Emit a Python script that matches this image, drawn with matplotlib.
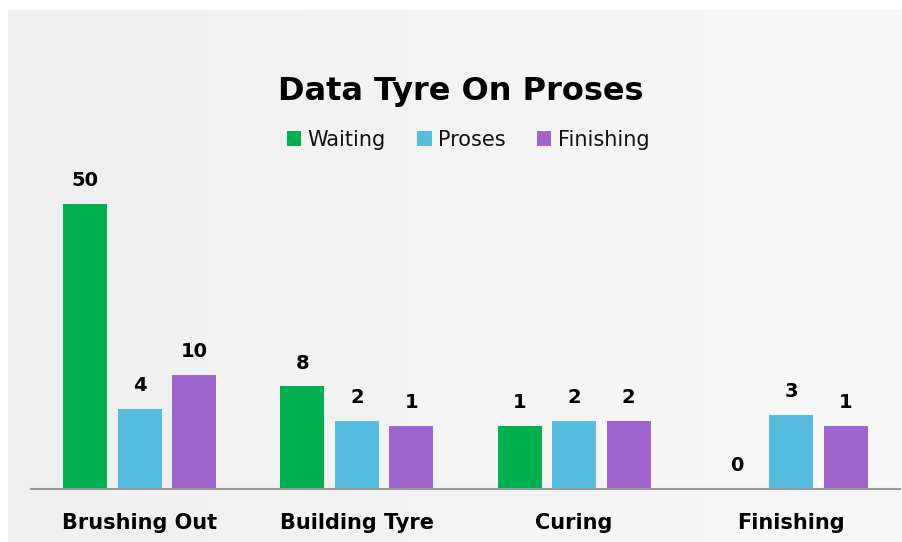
import numpy as np
import matplotlib
matplotlib.use('Agg')
import matplotlib.pyplot as plt

categories = ['Brushing Out', 'Building Tyre', 'Curing', 'Finishing']
series_names = ['Waiting', 'Proses', 'Finishing']
waiting = [50, 8, 1, 0]
proses = [4, 2, 2, 3]
finishing = [10, 1, 2, 1]
colors = ['#00b050', '#56bce0', '#a064cf']


# value axis of the original is not linear: small values get a lift,
# values above 10 are compressed
def fwd(v):
    v = np.asarray(v, dtype=float)
    return np.where(v <= 1, 11 * v, np.where(v <= 10, v + 10, 20 + 0.75 * (v - 10)))


def inv(y):
    y = np.asarray(y, dtype=float)
    return np.where(y <= 11, y / 11, np.where(y <= 20, y - 10, 10 + (y - 20) / 0.75))


plt.rcParams['font.family'] = ['DejaVu Sans']

fig = plt.figure(figsize=(9.03, 5.42), dpi=100)

# light gray slide background with a faint gradient
bg = fig.add_axes([8 / 903, 0, 1 - 8 / 903, 1 - 10 / 542])
grad = np.linspace(0, 1, 256).reshape(1, -1)
bg.imshow(grad, aspect='auto', cmap=matplotlib.colors.LinearSegmentedColormap.from_list(
    'g', ['#efefef', '#f8f8f8']), extent=[0, 1, 0, 1])
bg.set_axis_off()

ax = fig.add_axes([31 / 903, 1 - 489 / 542, 869 / 903, 5.7 * 58 / 542])
ax.set_facecolor('none')
ax.set_yscale('function', functions=(fwd, inv))

x = np.arange(len(categories))
width = 0.203
pitch = 0.251
for i, (name, vals) in enumerate(zip(series_names, [waiting, proses, finishing])):
    bars = ax.bar(x + (i - 1) * pitch, vals, width, color=colors[i], label=name)
    ax.bar_label(bars, padding=10, fontsize=14, fontweight='bold', color='#000000')

ax.set_xlim(-0.5, 3.5)
ax.set_ylim(0, float(inv(58)))
ax.set_yticks([])
ax.yaxis.set_minor_locator(matplotlib.ticker.NullLocator())
for s in ['top', 'right', 'left']:
    ax.spines[s].set_visible(False)
ax.spines['bottom'].set_color('#9a9a9a')
ax.spines['bottom'].set_linewidth(1.5)
ax.set_xticks(x)
ax.set_xticklabels(categories, fontsize=15, fontweight='bold', color='#000000')
ax.tick_params(axis='x', length=0, pad=17)

fig.text(461 / 903, 1 - 91 / 542, 'Data Tyre On Proses', ha='center', va='center',
         fontsize=23, fontweight='bold', color='#000000')
fig.legend(loc='center', bbox_to_anchor=(468 / 903, 1 - 140 / 542), ncol=3, frameon=False,
           fontsize=15, handlelength=0.7, handleheight=0.7, handletextpad=0.3,
           columnspacing=1.5, labelcolor='#111111')

fig.savefig('out.png', dpi=100)
